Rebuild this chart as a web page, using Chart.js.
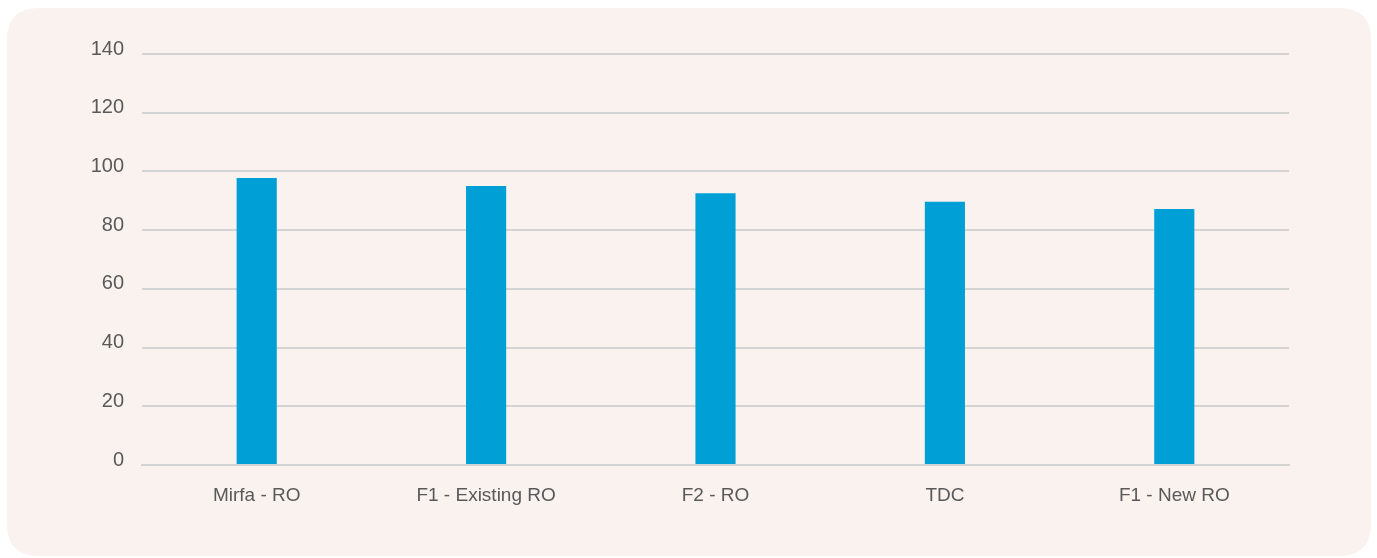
<!DOCTYPE html>
<html>
<head>
<meta charset="utf-8">
<script src="https://cdn.jsdelivr.net/npm/chart.js@4"></script>
<style>
  html, body { margin: 0; padding: 0; background: #ffffff; }
  #wrap { width: 1377px; height: 558px; position: relative; }
</style>
</head>
<body>
<div id="wrap"><canvas id="c" width="1377" height="558"></canvas></div>
<script>
const categories = ["Mirfa - RO", "F1 - Existing RO", "F2 - RO", "TDC", "F1 - New RO"];
const values = [97.8, 95.0, 92.6, 89.7, 87.2];
const yTicks = [0, 20, 40, 60, 80, 100, 120, 140];

const panelBg = {
  id: 'panelBg',
  beforeDraw(chart) {
    const ctx = chart.ctx;
    const x = 7, y = 8, w = 1364, h = 548, r = 32;
    ctx.save();
    ctx.fillStyle = '#ffffff';
    ctx.fillRect(0, 0, chart.width, chart.height);
    ctx.beginPath();
    ctx.moveTo(x + r, y);
    ctx.lineTo(x + w - r, y);
    ctx.quadraticCurveTo(x + w, y, x + w, y + r);
    ctx.lineTo(x + w, y + h - r);
    ctx.quadraticCurveTo(x + w, y + h, x + w - r, y + h);
    ctx.lineTo(x + r, y + h);
    ctx.quadraticCurveTo(x, y + h, x, y + h - r);
    ctx.lineTo(x, y + r);
    ctx.quadraticCurveTo(x, y, x + r, y);
    ctx.closePath();
    ctx.fillStyle = '#FAF2EF';
    ctx.fill();
    ctx.restore();
  }
};

new Chart(document.getElementById('c'), {
  type: 'bar',
  data: {
    labels: categories,
    datasets: [{
      data: values,
      backgroundColor: '#00A0D6',
      borderWidth: 0,
      categoryPercentage: 1.0,
      barPercentage: 0.175
    }]
  },
  options: {
    responsive: false,
    animation: false,
    devicePixelRatio: 1,
    layout: { padding: { left: 0, right: 88, top: 54, bottom: 0 } },
    plugins: { legend: { display: false }, tooltip: { enabled: false } },
    scales: {
      x: {
        grid: { display: false, drawTicks: false },
        border: { display: true, color: '#D4D4D4', width: 2 },
        ticks: {
          color: '#595959',
          font: { family: "'Liberation Sans', Arial, sans-serif", size: 19 },
          padding: 19
        },
        afterFit(s) { s.height = 93; }
      },
      y: {
        min: 0, max: 140,
        afterBuildTicks(s) { s.ticks = yTicks.map(v => ({ value: v })); },
        grid: { color: '#D4D4D4', lineWidth: 2, drawTicks: false },
        border: { display: false },
        ticks: {
          color: '#595959',
          font: { family: "'Liberation Sans', Arial, sans-serif", size: 20 },
          padding: 18,
          labelOffset: -5
        },
        afterFit(s) { s.width = 142; }
      }
    }
  },
  plugins: [panelBg]
});
</script>
</body>
</html>
